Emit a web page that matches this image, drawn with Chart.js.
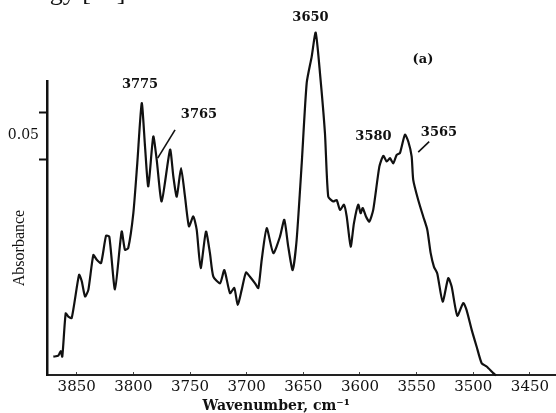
<!DOCTYPE html>
<html>
<head>
<meta charset="utf-8">
<script src="https://cdn.jsdelivr.net/npm/chart.js@4.4.1/dist/chart.umd.min.js"></script>
<style>
  body { margin: 0; background: #fff; }
  canvas { display: block; }
</style>
</head>
<body>
<canvas id="irChart" width="556" height="413"></canvas>
<script>
// IR spectrum, OH stretching region
const wavenumbers = [
  3870.6, 3866.2, 3864.1, 3862.7, 3859.7, 3857.4, 3854.4, 3847.9, 3845.5, 3842.6,
  3839.7, 3835.3, 3832.3, 3828.5, 3824.1, 3821.2, 3816.2, 3810.3, 3807.4, 3804.5,
  3800.0, 3796.5, 3792.6, 3789.7, 3786.8, 3782.4, 3779.4, 3775.0, 3767.6, 3764.7,
  3761.7, 3757.9, 3754.4, 3750.9, 3747.1, 3744.1, 3740.6, 3735.9, 3732.4, 3729.4,
  3723.5, 3719.7, 3714.7, 3710.9, 3707.9, 3704.4, 3700.6, 3697.1, 3692.6, 3689.7,
  3686.7, 3682.3, 3676.5, 3670.6, 3666.8, 3663.3, 3659.4, 3655.9, 3651.4, 3647.0,
  3642.6, 3639.1, 3635.3, 3630.9, 3628.0, 3623.6, 3620.6, 3617.6, 3614.1, 3611.7,
  3608.2, 3605.3, 3601.5, 3599.4, 3597.6, 3594.7, 3591.8, 3588.3, 3582.9, 3579.4,
  3576.4, 3573.5, 3570.6, 3567.6, 3564.7, 3560.3, 3557.3, 3554.4, 3553.0, 3548.6,
  3544.2, 3540.6, 3537.6, 3534.7, 3531.8, 3527.0, 3522.1, 3519.1, 3514.1, 3508.8,
  3505.9, 3501.4, 3497.0, 3492.6, 3488.2, 3482.4, 3480.0
];
const absorbance = [
  0.0030, 0.0032, 0.0042, 0.0030, 0.0122, 0.0115, 0.0112, 0.0204, 0.0190, 0.0158,
  0.0172, 0.0246, 0.0236, 0.0229, 0.0287, 0.0285, 0.0173, 0.0296, 0.0257, 0.0261,
  0.0335, 0.0442, 0.0569, 0.0477, 0.0392, 0.0498, 0.0449, 0.0360, 0.0470, 0.0413,
  0.0370, 0.0431, 0.0370, 0.0307, 0.0328, 0.0300, 0.0218, 0.0296, 0.0250, 0.0200,
  0.0186, 0.0214, 0.0165, 0.0176, 0.0140, 0.0172, 0.0209, 0.0200, 0.0186, 0.0176,
  0.0236, 0.0303, 0.0250, 0.0285, 0.0321, 0.0264, 0.0214, 0.0278, 0.0441, 0.0612,
  0.0668, 0.0719, 0.0633, 0.0505, 0.0370, 0.0360, 0.0363, 0.0342, 0.0353, 0.0328,
  0.0264, 0.0314, 0.0353, 0.0335, 0.0346, 0.0328, 0.0317, 0.0342, 0.0434, 0.0457,
  0.0445, 0.0452, 0.0441, 0.0459, 0.0463, 0.0502, 0.0487, 0.0456, 0.0406, 0.0363,
  0.0328, 0.0300, 0.0250, 0.0221, 0.0207, 0.0147, 0.0197, 0.0179, 0.0117, 0.0144,
  0.0129, 0.0087, 0.0051, 0.0016, 0.0009, -0.0005, -0.0010
];

const xTickValues = [3850, 3800, 3750, 3700, 3650, 3600, 3550, 3500, 3450];
const yTickValues = [0.045, 0.05, 0.055];
const yTickLabel = 0.05;

// peak labels, anchored in data units (wavenumber, absorbance)
const peakLabels = ['3775', '3765', '3650', '3580', '3565', '(a)'];
const peakLabelWn = [3794.1, 3742.1, 3643.7, 3588.1, 3530.3, 3544.4];
const peakLabelAbs = [0.0608, 0.0545, 0.0751, 0.0497, 0.0507, 0.0661];

// leader lines for 3765 and 3565
const leaderWn = [[3763.2, 3778.5], [3538.9, 3548.6]];
const leaderAbs = [[0.0512, 0.0452], [0.0487, 0.0465]];

const annotate = {
  id: 'annotate',
  afterDraw(chart) {
    const {ctx, scales: {x, y}} = chart;
    ctx.save();
    ctx.fillStyle = '#111';
    ctx.strokeStyle = '#111';

    // cropped caption text from the page above
    ctx.font = '26px "Liberation Serif"';
    ctx.textAlign = 'right';
    ctx.textBaseline = 'alphabetic';
    ctx.fillText('ology [33].', 132, 0);

    ctx.font = 'bold 13px "DejaVu Serif"';
    ctx.textAlign = 'center';
    ctx.textBaseline = 'middle';
    peakLabels.forEach((t, i) => {
      ctx.fillText(t, x.getPixelForValue(peakLabelWn[i]), y.getPixelForValue(peakLabelAbs[i]));
    });

    ctx.lineWidth = 1.6;
    leaderWn.forEach((w, i) => {
      ctx.beginPath();
      ctx.moveTo(x.getPixelForValue(w[0]), y.getPixelForValue(leaderAbs[i][0]));
      ctx.lineTo(x.getPixelForValue(w[1]), y.getPixelForValue(leaderAbs[i][1]));
      ctx.stroke();
    });

    // axis titles
    ctx.font = 'bold 14px "DejaVu Serif"';
    ctx.textBaseline = 'middle';
    ctx.fillText('Wavenumber, cm\u207B\u00B9', x.getPixelForValue(3674), 406);

    ctx.translate(19.5, 248);
    ctx.rotate(-Math.PI / 2);
    ctx.font = '16px "Liberation Serif"';
    ctx.fillText('Absorbance', 0, 0);
    ctx.restore();
  }
};

new Chart(document.getElementById('irChart'), {
  type: 'line',
  data: {
    datasets: [{
      data: wavenumbers.map((w, i) => ({x: w, y: absorbance[i]})),
      borderColor: '#111',
      borderWidth: 2.2,
      pointRadius: 0,
      tension: 0.2,
      clip: false
    }]
  },
  options: {
    responsive: false,
    animation: false,
    layout: { padding: { top: 81.5, left: 0, right: 0, bottom: 0 } },
    plugins: {
      legend: { display: false },
      tooltip: { enabled: false }
    },
    scales: {
      x: {
        type: 'linear',
        reverse: true,
        min: 3427,
        max: 3876.2,
        afterBuildTicks: (scale) => { scale.ticks = xTickValues.map(v => ({value: v})); },
        afterFit: (scale) => { scale.height = 38; },
        border: { color: '#222', width: 2 },
        grid: { drawOnChartArea: false, tickLength: -3, tickColor: '#444', tickWidth: 1 },
        ticks: {
          color: '#111',
          padding: 6,
          maxRotation: 0,
          font: { family: '"DejaVu Serif"', size: 15 },
          callback: (v) => String(v)
        }
      },
      y: {
        min: -0.0009,
        max: 0.0615,
        afterBuildTicks: (scale) => { scale.ticks = yTickValues.map(v => ({value: v})); },
        afterFit: (scale) => { scale.width = 47; },
        border: { color: '#111', width: 2.5 },
        grid: {
          drawOnChartArea: false,
          tickLength: 8,
          tickWidth: 2,
          tickColor: (c) => (c.tick && c.tick.value === yTickLabel) ? 'rgba(0,0,0,0)' : '#111'
        },
        ticks: {
          color: '#111',
          padding: 0,
          font: { family: '"DejaVu Serif"', size: 14 },
          callback: (v) => v === yTickLabel ? '0.05' : ''
        }
      }
    }
  },
  plugins: [annotate]
});
</script>
</body>
</html>
